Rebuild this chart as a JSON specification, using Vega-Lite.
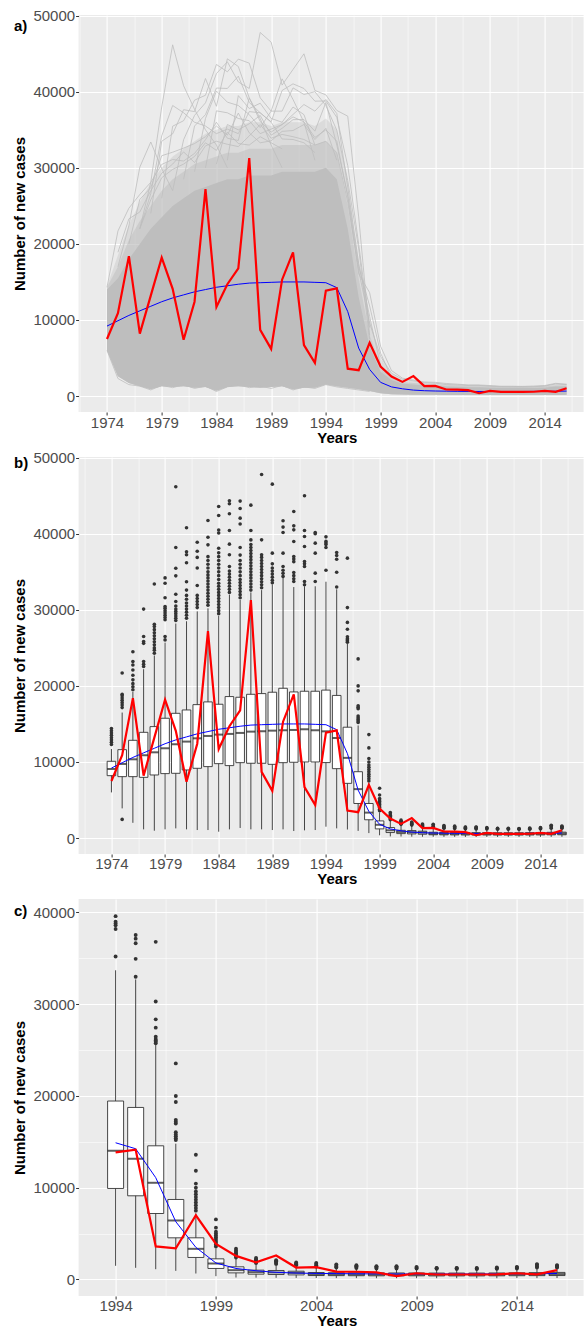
{
  "$schema": "https://vega.github.io/schema/vega-lite/v6.json",
  "background": "white",
  "padding": {"left": 12.6, "top": 8, "right": 0, "bottom": 0},
  "spacing": 45,
  "bounds": "flush",
  "config": {
    "font": "Liberation Sans",
    "view": {"fill": "#ebebeb", "stroke": null},
    "axis": {
      "domain": false,
      "tickColor": "#333333",
      "tickSize": 3,
      "tickWidth": 1,
      "labelColor": "#4d4d4d",
      "labelFont": "Liberation Sans",
      "labelFontSize": 15,
      "labelOverlap": false,
      "labelFlush": false,
      "labelBound": false,
      "titleFont": "Liberation Sans",
      "titleFontSize": 15,
      "titleFontWeight": "bold",
      "titleColor": "#000000",
      "gridColor": "#ffffff"
    },
    "axisX": {"labelPadding": 0, "titlePadding": 0, "titleX": 258.2},
    "axisY": {"labelPadding": 1, "titlePadding": 5},
    "title": {
      "anchor": "start",
      "frame": "group",
      "dx": -64.6,
      "offset": -20,
      "baseline": "alphabetic",
      "font": "Liberation Sans",
      "fontSize": 15,
      "fontWeight": "bold",
      "color": "#000000"
    }
  },
  "datasets": {
    "box": [
      {"year":1974,"lo":6000,"q1":8200,"med":9080,"q3":10090,"hi":11700},
      {"year":1975,"lo":3900,"q1":8070,"med":9740,"q3":11620,"hi":16500},
      {"year":1976,"lo":2000,"q1":8070,"med":10350,"q3":12850,"hi":19200},
      {"year":1977,"lo":1140,"q1":7980,"med":10880,"q3":13900,"hi":22200},
      {"year":1978,"lo":960,"q1":8290,"med":11270,"q3":14650,"hi":24000},
      {"year":1979,"lo":1140,"q1":8470,"med":11800,"q3":15750,"hi":25700},
      {"year":1980,"lo":1270,"q1":8510,"med":12330,"q3":16400,"hi":28200},
      {"year":1981,"lo":1140,"q1":8950,"med":12680,"q3":16840,"hi":28500},
      {"year":1982,"lo":1050,"q1":9170,"med":13110,"q3":17540,"hi":29800},
      {"year":1983,"lo":1050,"q1":9390,"med":13420,"q3":17900,"hi":30200},
      {"year":1984,"lo":830,"q1":9780,"med":13600,"q3":17590,"hi":29200},
      {"year":1985,"lo":1140,"q1":9520,"med":13690,"q3":18600,"hi":32000},
      {"year":1986,"lo":1320,"q1":9910,"med":13820,"q3":18510,"hi":31300},
      {"year":1987,"lo":1140,"q1":9830,"med":13990,"q3":18900,"hi":32300},
      {"year":1988,"lo":1140,"q1":9830,"med":14040,"q3":18990,"hi":32600},
      {"year":1989,"lo":1050,"q1":9690,"med":14120,"q3":19170,"hi":33300},
      {"year":1990,"lo":1140,"q1":9910,"med":14170,"q3":19690,"hi":34200},
      {"year":1991,"lo":920,"q1":9960,"med":14210,"q3":19210,"hi":33000},
      {"year":1992,"lo":1010,"q1":10000,"med":14300,"q3":19300,"hi":33100},
      {"year":1993,"lo":1050,"q1":10000,"med":14170,"q3":19300,"hi":33100},
      {"year":1994,"lo":1490,"q1":9920,"med":14030,"q3":19450,"hi":33700},
      {"year":1995,"lo":1270,"q1":9120,"med":13150,"q3":18750,"hi":32700},
      {"year":1996,"lo":1120,"q1":7190,"med":10540,"q3":14570,"hi":25550},
      {"year":1997,"lo":940,"q1":4540,"med":6430,"q3":8720,"hi":14800},
      {"year":1998,"lo":650,"q1":2400,"med":3340,"q3":4540,"hi":7200},
      {"year":1999,"lo":360,"q1":1200,"med":1740,"q3":2250,"hi":3380},
      {"year":2000,"lo":215,"q1":720,"med":1015,"q3":1380,"hi":2300},
      {"year":2001,"lo":200,"q1":580,"med":800,"q3":1015,"hi":1650},
      {"year":2002,"lo":180,"q1":540,"med":760,"q3":980,"hi":1600},
      {"year":2003,"lo":170,"q1":500,"med":720,"q3":900,"hi":1480},
      {"year":2004,"lo":160,"q1":430,"med":580,"q3":760,"hi":1250},
      {"year":2005,"lo":150,"q1":420,"med":570,"q3":740,"hi":1200},
      {"year":2006,"lo":150,"q1":410,"med":560,"q3":730,"hi":1180},
      {"year":2007,"lo":140,"q1":400,"med":550,"q3":720,"hi":1150},
      {"year":2008,"lo":140,"q1":400,"med":540,"q3":710,"hi":1150},
      {"year":2009,"lo":140,"q1":400,"med":540,"q3":710,"hi":1150},
      {"year":2010,"lo":140,"q1":390,"med":530,"q3":700,"hi":1120},
      {"year":2011,"lo":140,"q1":390,"med":530,"q3":700,"hi":1120},
      {"year":2012,"lo":140,"q1":390,"med":530,"q3":700,"hi":1120},
      {"year":2013,"lo":140,"q1":400,"med":540,"q3":710,"hi":1130},
      {"year":2014,"lo":150,"q1":410,"med":560,"q3":730,"hi":1150},
      {"year":2015,"lo":150,"q1":420,"med":570,"q3":750,"hi":1200},
      {"year":2016,"lo":160,"q1":430,"med":590,"q3":770,"hi":1250}
    ],
    "outl": [
      {"year":1974,"v":12300},{"year":1974,"v":12600},{"year":1974,"v":12900},{"year":1974,"v":13200},{"year":1974,"v":13500},{"year":1974,"v":13800},{"year":1974,"v":14100},{"year":1974,"v":14400},
      {"year":1975,"v":2450},{"year":1975,"v":17150},{"year":1975,"v":17500},{"year":1975,"v":17800},{"year":1975,"v":18100},{"year":1975,"v":18400},{"year":1975,"v":18700},{"year":1975,"v":18900},{"year":1975,"v":21700},
      {"year":1976,"v":19500},{"year":1976,"v":19900},{"year":1976,"v":20300},{"year":1976,"v":20800},{"year":1976,"v":21400},{"year":1976,"v":22100},{"year":1976,"v":22750},{"year":1976,"v":23200},{"year":1976,"v":24500},
      {"year":1977,"v":22550},{"year":1977,"v":22850},{"year":1977,"v":23200},{"year":1977,"v":25600},{"year":1977,"v":25850},{"year":1977,"v":26500},{"year":1977,"v":30100},
      {"year":1978,"v":24300},{"year":1978,"v":24700},{"year":1978,"v":25000},{"year":1978,"v":25400},{"year":1978,"v":25800},{"year":1978,"v":26200},{"year":1978,"v":26600},{"year":1978,"v":27000},{"year":1978,"v":27400},{"year":1978,"v":27800},{"year":1978,"v":28100},{"year":1978,"v":33400},
      {"year":1979,"v":26050},{"year":1979,"v":26500},{"year":1979,"v":28700},{"year":1979,"v":29000},{"year":1979,"v":29300},{"year":1979,"v":29600},{"year":1979,"v":29900},{"year":1979,"v":30200},{"year":1979,"v":30450},{"year":1979,"v":31600},{"year":1979,"v":33500},{"year":1979,"v":34200},
      {"year":1980,"v":28600},{"year":1980,"v":28900},{"year":1980,"v":29200},{"year":1980,"v":29500},{"year":1980,"v":29800},{"year":1980,"v":30100},{"year":1980,"v":30500},{"year":1980,"v":31100},{"year":1980,"v":32060},{"year":1980,"v":34470},{"year":1980,"v":35480},{"year":1980,"v":38200},{"year":1980,"v":46180},
      {"year":1981,"v":28900},{"year":1981,"v":29300},{"year":1981,"v":29700},{"year":1981,"v":30100},{"year":1981,"v":30500},{"year":1981,"v":30900},{"year":1981,"v":31400},{"year":1981,"v":31900},{"year":1981,"v":32600},{"year":1981,"v":33700},{"year":1981,"v":36200},{"year":1981,"v":37250},{"year":1981,"v":37650},{"year":1981,"v":40800},
      {"year":1982,"v":30300},{"year":1982,"v":30700},{"year":1982,"v":31100},{"year":1982,"v":31500},{"year":1982,"v":31900},{"year":1982,"v":33200},{"year":1982,"v":35500},{"year":1982,"v":36900},{"year":1982,"v":37700},{"year":1982,"v":38900},
      {"year":1983,"v":30600},{"year":1983,"v":31000},{"year":1983,"v":31400},{"year":1983,"v":31800},{"year":1983,"v":32200},{"year":1983,"v":32600},{"year":1983,"v":33000},{"year":1983,"v":33400},{"year":1983,"v":33800},{"year":1983,"v":34200},{"year":1983,"v":34600},{"year":1983,"v":35000},{"year":1983,"v":35500},{"year":1983,"v":36000},{"year":1983,"v":36500},{"year":1983,"v":37000},{"year":1983,"v":38550},{"year":1983,"v":39550},{"year":1983,"v":41750},
      {"year":1984,"v":29500},{"year":1984,"v":29900},{"year":1984,"v":30300},{"year":1984,"v":30700},{"year":1984,"v":31100},{"year":1984,"v":31500},{"year":1984,"v":31900},{"year":1984,"v":32300},{"year":1984,"v":32700},{"year":1984,"v":33100},{"year":1984,"v":33500},{"year":1984,"v":34000},{"year":1984,"v":34500},{"year":1984,"v":35000},{"year":1984,"v":35500},{"year":1984,"v":36000},{"year":1984,"v":36500},{"year":1984,"v":37000},{"year":1984,"v":37500},{"year":1984,"v":38100},{"year":1984,"v":40100},{"year":1984,"v":40500},{"year":1984,"v":42400},{"year":1984,"v":43600},
      {"year":1985,"v":32300},{"year":1985,"v":32700},{"year":1985,"v":33100},{"year":1985,"v":33500},{"year":1985,"v":33900},{"year":1985,"v":34300},{"year":1985,"v":34700},{"year":1985,"v":35100},{"year":1985,"v":35700},{"year":1985,"v":37240},{"year":1985,"v":38640},{"year":1985,"v":40440},{"year":1985,"v":42630},{"year":1985,"v":43950},{"year":1985,"v":44340},
      {"year":1986,"v":31600},{"year":1986,"v":32000},{"year":1986,"v":32400},{"year":1986,"v":32800},{"year":1986,"v":33200},{"year":1986,"v":33600},{"year":1986,"v":34000},{"year":1986,"v":34500},{"year":1986,"v":35000},{"year":1986,"v":35500},{"year":1986,"v":36000},{"year":1986,"v":36500},{"year":1986,"v":37200},{"year":1986,"v":38200},{"year":1986,"v":41300},{"year":1986,"v":42060},{"year":1986,"v":43330},{"year":1986,"v":44300},
      {"year":1987,"v":32600},{"year":1987,"v":33000},{"year":1987,"v":33400},{"year":1987,"v":33800},{"year":1987,"v":34200},{"year":1987,"v":34600},{"year":1987,"v":35000},{"year":1987,"v":35400},{"year":1987,"v":35800},{"year":1987,"v":36200},{"year":1987,"v":36600},{"year":1987,"v":37000},{"year":1987,"v":37400},{"year":1987,"v":37800},{"year":1987,"v":38200},{"year":1987,"v":38600},{"year":1987,"v":39200},{"year":1987,"v":40440},{"year":1987,"v":43770},
      {"year":1988,"v":32900},{"year":1988,"v":33300},{"year":1988,"v":33700},{"year":1988,"v":34100},{"year":1988,"v":34500},{"year":1988,"v":34900},{"year":1988,"v":35300},{"year":1988,"v":35700},{"year":1988,"v":36100},{"year":1988,"v":36500},{"year":1988,"v":36900},{"year":1988,"v":37240},{"year":1988,"v":39210},{"year":1988,"v":47800},
      {"year":1989,"v":33550},{"year":1989,"v":33900},{"year":1989,"v":34300},{"year":1989,"v":34700},{"year":1989,"v":35100},{"year":1989,"v":35500},{"year":1989,"v":36050},{"year":1989,"v":37460},{"year":1989,"v":46530},
      {"year":1990,"v":34400},{"year":1990,"v":34800},{"year":1990,"v":35200},{"year":1990,"v":35700},{"year":1990,"v":37460},{"year":1990,"v":40180},{"year":1990,"v":40880},{"year":1990,"v":41710},
      {"year":1991,"v":33730},{"year":1991,"v":34100},{"year":1991,"v":34500},{"year":1991,"v":34910},{"year":1991,"v":36340},{"year":1991,"v":36700},{"year":1991,"v":37020},{"year":1991,"v":38990},{"year":1991,"v":40520},{"year":1991,"v":41050},{"year":1991,"v":42940},
      {"year":1992,"v":33300},{"year":1992,"v":33730},{"year":1992,"v":35700},{"year":1992,"v":36050},{"year":1992,"v":36360},{"year":1992,"v":38330},{"year":1992,"v":39650},{"year":1992,"v":40440},{"year":1992,"v":45000},
      {"year":1993,"v":33730},{"year":1993,"v":34830},{"year":1993,"v":37460},{"year":1993,"v":38770},{"year":1993,"v":40010},{"year":1993,"v":40180},
      {"year":1994,"v":35200},{"year":1994,"v":38200},{"year":1994,"v":38600},{"year":1994,"v":38800},{"year":1994,"v":39000},{"year":1994,"v":39600},
      {"year":1995,"v":33000},{"year":1995,"v":34950},{"year":1995,"v":36650},{"year":1995,"v":37150},{"year":1995,"v":37550},
      {"year":1996,"v":25750},{"year":1996,"v":25900},{"year":1996,"v":26050},{"year":1996,"v":26200},{"year":1996,"v":26450},{"year":1996,"v":27450},{"year":1996,"v":28350},{"year":1996,"v":30300},{"year":1996,"v":36800},
      {"year":1997,"v":15200},{"year":1997,"v":15400},{"year":1997,"v":15600},{"year":1997,"v":15800},{"year":1997,"v":16050},{"year":1997,"v":17000},{"year":1997,"v":17200},{"year":1997,"v":17400},{"year":1997,"v":19350},{"year":1997,"v":20000},{"year":1997,"v":23550},
      {"year":1998,"v":7500},{"year":1998,"v":7800},{"year":1998,"v":8100},{"year":1998,"v":8400},{"year":1998,"v":8700},{"year":1998,"v":9000},{"year":1998,"v":9300},{"year":1998,"v":9600},{"year":1998,"v":10000},{"year":1998,"v":10450},{"year":1998,"v":11850},{"year":1998,"v":13600},
      {"year":1999,"v":3600},{"year":1999,"v":3800},{"year":1999,"v":4000},{"year":1999,"v":4200},{"year":1999,"v":4400},{"year":1999,"v":4600},{"year":1999,"v":4800},{"year":1999,"v":5000},{"year":1999,"v":5200},{"year":1999,"v":5650},{"year":1999,"v":6550},
      {"year":2000,"v":2400},{"year":2000,"v":2550},{"year":2000,"v":2700},{"year":2000,"v":2850},{"year":2000,"v":3000},{"year":2000,"v":3150},{"year":2000,"v":3350},
      {"year":2001,"v":1800},{"year":2001,"v":1900},{"year":2001,"v":2000},{"year":2001,"v":2100},{"year":2001,"v":2200},{"year":2001,"v":2350},
      {"year":2002,"v":1700},{"year":2002,"v":1800},{"year":2002,"v":1900},{"year":2002,"v":2000},{"year":2002,"v":2100},
      {"year":2003,"v":1550},{"year":2003,"v":1650},{"year":2003,"v":1750},{"year":2003,"v":1850},
      {"year":2004,"v":1400},{"year":2004,"v":1550},{"year":2004,"v":1700},{"year":2004,"v":1800},
      {"year":2005,"v":1300},{"year":2005,"v":1400},{"year":2005,"v":1500},{"year":2005,"v":1650},
      {"year":2006,"v":1250},{"year":2006,"v":1350},{"year":2006,"v":1450},{"year":2006,"v":1560},
      {"year":2007,"v":1200},{"year":2007,"v":1300},{"year":2007,"v":1400},{"year":2007,"v":1450},
      {"year":2008,"v":1200},{"year":2008,"v":1300},{"year":2008,"v":1400},{"year":2008,"v":1450},
      {"year":2009,"v":1200},{"year":2009,"v":1280},{"year":2009,"v":1380},
      {"year":2010,"v":1170},{"year":2010,"v":1230},{"year":2010,"v":1270},
      {"year":2011,"v":1150},{"year":2011,"v":1220},{"year":2011,"v":1270},
      {"year":2012,"v":1150},{"year":2012,"v":1200},{"year":2012,"v":1250},
      {"year":2013,"v":1170},{"year":2013,"v":1230},{"year":2013,"v":1300},
      {"year":2014,"v":1200},{"year":2014,"v":1300},{"year":2014,"v":1380},
      {"year":2015,"v":1300},{"year":2015,"v":1450},{"year":2015,"v":1600},{"year":2015,"v":1670},
      {"year":2016,"v":1300},{"year":2016,"v":1400},{"year":2016,"v":1500},{"year":2016,"v":1560}
    ],
    "obs": [
      {"year":1974,"obs":7500,"fit":9200},{"year":1975,"obs":10900,"fit":9900},{"year":1976,"obs":18400,"fit":10600},
      {"year":1977,"obs":8200,"fit":11200},{"year":1978,"obs":13200,"fit":11800},{"year":1979,"obs":18200,"fit":12400},
      {"year":1980,"obs":14100,"fit":12900},{"year":1981,"obs":7400,"fit":13300},{"year":1982,"obs":12400,"fit":13700},
      {"year":1983,"obs":27200,"fit":14000},{"year":1984,"obs":11700,"fit":14300},{"year":1985,"obs":14700,"fit":14500},
      {"year":1986,"obs":16800,"fit":14700},{"year":1987,"obs":31300,"fit":14850},{"year":1988,"obs":8700,"fit":14900},
      {"year":1989,"obs":6200,"fit":14950},{"year":1990,"obs":15300,"fit":15000},{"year":1991,"obs":18900,"fit":15000},
      {"year":1992,"obs":6700,"fit":15000},{"year":1993,"obs":4350,"fit":14950},{"year":1994,"obs":13850,"fit":14900},
      {"year":1995,"obs":14150,"fit":14250},{"year":1996,"obs":3600,"fit":11100},{"year":1997,"obs":3400,"fit":6300},
      {"year":1998,"obs":7000,"fit":3500},{"year":1999,"obs":3880,"fit":1800},{"year":2000,"obs":2570,"fit":1200},
      {"year":2001,"obs":1860,"fit":950},{"year":2002,"obs":2620,"fit":780},{"year":2003,"obs":1300,"fit":700},
      {"year":2004,"obs":1340,"fit":660},{"year":2005,"obs":860,"fit":640},{"year":2006,"obs":840,"fit":620},
      {"year":2007,"obs":780,"fit":610},{"year":2008,"obs":370,"fit":600},{"year":2009,"obs":680,"fit":600},
      {"year":2010,"obs":540,"fit":600},{"year":2011,"obs":540,"fit":600},{"year":2012,"obs":540,"fit":600},
      {"year":2013,"obs":560,"fit":610},{"year":2014,"obs":680,"fit":620},{"year":2015,"obs":560,"fit":630},
      {"year":2016,"obs":1020,"fit":650}
    ],
    "core": [
      {"year":1974,"lo":6000,"hi":14000,"hi2":14300,"hi3":14400},
      {"year":1975,"lo":2600,"hi":15500,"hi2":17000,"hi3":18500},
      {"year":1976,"lo":1700,"hi":18000,"hi2":20500,"hi3":22500},
      {"year":1977,"lo":1300,"hi":20000,"hi2":23000,"hi3":25500},
      {"year":1978,"lo":900,"hi":22000,"hi2":25000,"hi3":28000},
      {"year":1979,"lo":1300,"hi":23500,"hi2":27000,"hi3":30000},
      {"year":1980,"lo":1200,"hi":25000,"hi2":28500,"hi3":31500},
      {"year":1981,"lo":1300,"hi":26000,"hi2":29500,"hi3":32500},
      {"year":1982,"lo":1100,"hi":27000,"hi2":30500,"hi3":33500},
      {"year":1983,"lo":1200,"hi":27500,"hi2":31000,"hi3":34500},
      {"year":1984,"lo":700,"hi":28000,"hi2":31500,"hi3":35000},
      {"year":1985,"lo":1200,"hi":28500,"hi2":32000,"hi3":35500},
      {"year":1986,"lo":1300,"hi":28500,"hi2":32000,"hi3":35500},
      {"year":1987,"lo":1200,"hi":29000,"hi2":32500,"hi3":36000},
      {"year":1988,"lo":1100,"hi":29000,"hi2":32500,"hi3":36000},
      {"year":1989,"lo":1200,"hi":29000,"hi2":32500,"hi3":35500},
      {"year":1990,"lo":1300,"hi":29500,"hi2":33000,"hi3":36000},
      {"year":1991,"lo":900,"hi":29500,"hi2":33000,"hi3":36000},
      {"year":1992,"lo":1100,"hi":29500,"hi2":33000,"hi3":36000},
      {"year":1993,"lo":1100,"hi":29500,"hi2":33000,"hi3":35500},
      {"year":1994,"lo":1500,"hi":30000,"hi2":33500,"hi3":36500},
      {"year":1995,"lo":1300,"hi":28500,"hi2":32000,"hi3":35000},
      {"year":1996,"lo":1100,"hi":22000,"hi2":25000,"hi3":28000},
      {"year":1997,"lo":900,"hi":13000,"hi2":15500,"hi3":18000},
      {"year":1998,"lo":650,"hi":6500,"hi2":8000,"hi3":10000},
      {"year":1999,"lo":350,"hi":3200,"hi2":4000,"hi3":5000},
      {"year":2000,"lo":220,"hi":2100,"hi2":2500,"hi3":2900},
      {"year":2001,"lo":200,"hi":1600,"hi2":1800,"hi3":2100},
      {"year":2002,"lo":180,"hi":1500,"hi2":1700,"hi3":1950},
      {"year":2003,"lo":170,"hi":1400,"hi2":1600,"hi3":1800},
      {"year":2004,"lo":160,"hi":1350,"hi2":1500,"hi3":1700},
      {"year":2005,"lo":150,"hi":1250,"hi2":1400,"hi3":1600},
      {"year":2006,"lo":150,"hi":1200,"hi2":1350,"hi3":1500},
      {"year":2007,"lo":140,"hi":1150,"hi2":1300,"hi3":1450},
      {"year":2008,"lo":140,"hi":1150,"hi2":1300,"hi3":1450},
      {"year":2009,"lo":140,"hi":1100,"hi2":1250,"hi3":1400},
      {"year":2010,"lo":140,"hi":1050,"hi2":1200,"hi3":1350},
      {"year":2011,"lo":140,"hi":1050,"hi2":1200,"hi3":1350},
      {"year":2012,"lo":140,"hi":1050,"hi2":1200,"hi3":1350},
      {"year":2013,"lo":140,"hi":1050,"hi2":1200,"hi3":1350},
      {"year":2014,"lo":150,"hi":1100,"hi2":1250,"hi3":1400},
      {"year":2015,"lo":150,"hi":1250,"hi2":1400,"hi3":1600},
      {"year":2016,"lo":160,"hi":1250,"hi2":1400,"hi3":1550}
    ],
    "sims": [
      {"s":1,"year":1975,"v":17000},{"s":1,"year":1976,"v":22400},{"s":1,"year":1977,"v":30100},{"s":1,"year":1978,"v":33400},{"s":1,"year":1979,"v":29900},{"s":1,"year":1980,"v":27000},
      {"s":2,"year":1977,"v":22000},{"s":2,"year":1978,"v":28100},{"s":2,"year":1979,"v":38000},{"s":2,"year":1980,"v":46180},{"s":2,"year":1981,"v":40800},{"s":2,"year":1982,"v":37700},{"s":2,"year":1983,"v":35000},{"s":2,"year":1984,"v":33000},{"s":2,"year":1985,"v":30000},
      {"s":3,"year":1978,"v":24000},{"s":3,"year":1979,"v":33500},{"s":3,"year":1980,"v":34470},{"s":3,"year":1981,"v":37650},{"s":3,"year":1982,"v":37400},{"s":3,"year":1983,"v":41750},{"s":3,"year":1984,"v":38100},{"s":3,"year":1985,"v":44340},{"s":3,"year":1986,"v":43330},{"s":3,"year":1987,"v":39200},{"s":3,"year":1988,"v":36500},{"s":3,"year":1989,"v":33000},{"s":3,"year":1990,"v":30000},
      {"s":4,"year":1979,"v":26000},{"s":4,"year":1980,"v":35480},{"s":4,"year":1981,"v":36200},{"s":4,"year":1982,"v":38900},{"s":4,"year":1983,"v":39550},{"s":4,"year":1984,"v":43600},{"s":4,"year":1985,"v":42630},{"s":4,"year":1986,"v":44300},{"s":4,"year":1987,"v":43770},{"s":4,"year":1988,"v":39210},{"s":4,"year":1989,"v":37460},{"s":4,"year":1990,"v":41710},{"s":4,"year":1991,"v":38990},{"s":4,"year":1992,"v":36000},{"s":4,"year":1993,"v":31000},
      {"s":5,"year":1980,"v":27000},{"s":5,"year":1981,"v":33700},{"s":5,"year":1982,"v":36900},{"s":5,"year":1983,"v":38550},{"s":5,"year":1984,"v":42400},{"s":5,"year":1985,"v":43950},{"s":5,"year":1986,"v":41300},{"s":5,"year":1987,"v":40440},{"s":5,"year":1988,"v":47800},{"s":5,"year":1989,"v":46530},{"s":5,"year":1990,"v":40880},{"s":5,"year":1991,"v":42940},{"s":5,"year":1992,"v":45000},{"s":5,"year":1993,"v":40180},{"s":5,"year":1994,"v":39600},{"s":5,"year":1995,"v":37550},{"s":5,"year":1996,"v":36800},{"s":5,"year":1997,"v":23550},{"s":5,"year":1998,"v":8000},
      {"s":6,"year":1981,"v":28500},{"s":6,"year":1982,"v":35500},{"s":6,"year":1983,"v":37000},{"s":6,"year":1984,"v":40500},{"s":6,"year":1985,"v":40440},{"s":6,"year":1986,"v":42060},{"s":6,"year":1987,"v":38600},{"s":6,"year":1988,"v":37240},{"s":6,"year":1989,"v":36050},{"s":6,"year":1990,"v":40180},{"s":6,"year":1991,"v":41050},{"s":6,"year":1992,"v":40440},{"s":6,"year":1993,"v":38770},{"s":6,"year":1994,"v":38800},{"s":6,"year":1995,"v":36650},{"s":6,"year":1996,"v":30300},{"s":6,"year":1997,"v":20000},{"s":6,"year":1998,"v":9000},
      {"s":7,"year":1982,"v":29500},{"s":7,"year":1983,"v":36500},{"s":7,"year":1984,"v":40100},{"s":7,"year":1985,"v":38640},{"s":7,"year":1986,"v":38200},{"s":7,"year":1987,"v":37000},{"s":7,"year":1988,"v":35300},{"s":7,"year":1989,"v":37460},{"s":7,"year":1990,"v":37460},{"s":7,"year":1991,"v":40520},{"s":7,"year":1992,"v":39650},{"s":7,"year":1993,"v":40010},{"s":7,"year":1994,"v":38200},{"s":7,"year":1995,"v":34950},{"s":7,"year":1996,"v":28350},{"s":7,"year":1997,"v":19350},{"s":7,"year":1998,"v":7500},
      {"s":8,"year":1983,"v":30000},{"s":8,"year":1984,"v":37500},{"s":8,"year":1985,"v":37240},{"s":8,"year":1986,"v":36500},{"s":8,"year":1987,"v":36200},{"s":8,"year":1988,"v":34500},{"s":8,"year":1989,"v":35100},{"s":8,"year":1990,"v":35700},{"s":8,"year":1991,"v":37020},{"s":8,"year":1992,"v":38330},{"s":8,"year":1993,"v":37460},{"s":8,"year":1994,"v":39000},{"s":8,"year":1995,"v":37150},{"s":8,"year":1996,"v":27450},{"s":8,"year":1997,"v":17400},{"s":8,"year":1998,"v":10450},{"s":8,"year":1999,"v":4000},
      {"s":9,"year":1984,"v":30500},{"s":9,"year":1985,"v":35700},{"s":9,"year":1986,"v":35000},{"s":9,"year":1987,"v":35800},{"s":9,"year":1988,"v":36900},{"s":9,"year":1989,"v":34300},{"s":9,"year":1990,"v":35200},{"s":9,"year":1991,"v":36340},{"s":9,"year":1992,"v":36360},{"s":9,"year":1993,"v":34830},{"s":9,"year":1994,"v":38600},{"s":9,"year":1995,"v":33000},{"s":9,"year":1996,"v":26450},{"s":9,"year":1997,"v":17000},{"s":9,"year":1998,"v":11850},{"s":9,"year":1999,"v":5650},{"s":9,"year":2000,"v":2400},
      {"s":10,"year":1976,"v":20000},{"s":10,"year":1977,"v":25850},{"s":10,"year":1978,"v":27400},{"s":10,"year":1979,"v":31600},{"s":10,"year":1980,"v":32060},{"s":10,"year":1981,"v":32600},{"s":10,"year":1982,"v":33200},{"s":10,"year":1983,"v":34100},{"s":10,"year":1984,"v":35500},{"s":10,"year":1985,"v":34300},{"s":10,"year":1986,"v":37200},{"s":10,"year":1987,"v":34600},{"s":10,"year":1988,"v":33300},{"s":10,"year":1989,"v":33550},{"s":10,"year":1990,"v":34800},{"s":10,"year":1991,"v":34910},{"s":10,"year":1992,"v":35700},{"s":10,"year":1993,"v":33730},{"s":10,"year":1994,"v":35200},{"s":10,"year":1995,"v":31000},
      {"s":11,"year":1977,"v":22000},{"s":11,"year":1978,"v":26600},{"s":11,"year":1979,"v":34200},{"s":11,"year":1980,"v":38200},{"s":11,"year":1981,"v":37250},{"s":11,"year":1982,"v":36000},{"s":11,"year":1983,"v":35500},{"s":11,"year":1984,"v":34500},{"s":11,"year":1985,"v":35100},{"s":11,"year":1986,"v":34500},{"s":11,"year":1987,"v":37400},{"s":11,"year":1988,"v":37240},{"s":11,"year":1989,"v":36000},{"s":11,"year":1990,"v":33800},{"s":11,"year":1991,"v":33730},{"s":11,"year":1992,"v":33300},{"s":11,"year":1993,"v":32000},
      {"s":12,"year":1974,"v":14300},{"s":12,"year":1975,"v":21700},{"s":12,"year":1976,"v":24700},{"s":12,"year":1977,"v":26500},{"s":12,"year":1978,"v":28100},{"s":12,"year":1979,"v":30450},{"s":12,"year":1980,"v":31100},{"s":12,"year":1981,"v":30900},{"s":12,"year":1982,"v":31900},{"s":12,"year":1983,"v":33700},{"s":12,"year":1984,"v":36000},{"s":12,"year":1985,"v":33900},{"s":12,"year":1986,"v":33600},{"s":12,"year":1987,"v":39200},{"s":12,"year":1988,"v":36100},{"s":12,"year":1989,"v":34700},{"s":12,"year":1990,"v":35700},{"s":12,"year":1991,"v":36700},{"s":12,"year":1992,"v":36050},{"s":12,"year":1993,"v":34000},{"s":12,"year":1994,"v":35000},{"s":12,"year":1995,"v":33500},{"s":12,"year":1996,"v":26200},{"s":12,"year":1997,"v":16050},{"s":12,"year":1998,"v":13600},{"s":12,"year":1999,"v":6550},{"s":12,"year":2000,"v":3350},{"s":12,"year":2001,"v":2350},{"s":12,"year":2002,"v":2100},{"s":12,"year":2003,"v":1850},{"s":12,"year":2004,"v":1800},{"s":12,"year":2005,"v":1650},{"s":12,"year":2006,"v":1560},{"s":12,"year":2007,"v":1450},{"s":12,"year":2008,"v":1450},{"s":12,"year":2009,"v":1380},{"s":12,"year":2010,"v":1270},{"s":12,"year":2011,"v":1270},{"s":12,"year":2012,"v":1250},{"s":12,"year":2013,"v":1300},{"s":12,"year":2014,"v":1380},{"s":12,"year":2015,"v":1670},{"s":12,"year":2016,"v":1560},
      {"s":13,"year":1975,"v":18900},{"s":13,"year":1976,"v":23300},{"s":13,"year":1977,"v":24200},{"s":13,"year":1978,"v":27000},{"s":13,"year":1979,"v":29300},{"s":13,"year":1980,"v":30500},{"s":13,"year":1981,"v":32100},{"s":13,"year":1982,"v":30700},{"s":13,"year":1983,"v":32900},{"s":13,"year":1984,"v":33500},{"s":13,"year":1985,"v":33100},{"s":13,"year":1986,"v":32800},{"s":13,"year":1987,"v":34200},{"s":13,"year":1988,"v":35700},{"s":13,"year":1989,"v":33900},{"s":13,"year":1990,"v":34400},{"s":13,"year":1991,"v":34100},{"s":13,"year":1992,"v":33730},{"s":13,"year":1993,"v":33000},{"s":13,"year":1994,"v":33500},{"s":13,"year":1995,"v":32000},{"s":13,"year":1996,"v":25500},{"s":13,"year":1997,"v":16500},{"s":13,"year":1998,"v":9600},{"s":13,"year":1999,"v":5200},{"s":13,"year":2000,"v":3000},{"s":13,"year":2001,"v":2200},{"s":13,"year":2002,"v":2000},{"s":13,"year":2003,"v":1750},{"s":13,"year":2004,"v":1700},{"s":13,"year":2005,"v":1500},{"s":13,"year":2006,"v":1450},{"s":13,"year":2007,"v":1400},{"s":13,"year":2008,"v":1400},{"s":13,"year":2009,"v":1280},{"s":13,"year":2010,"v":1230},{"s":13,"year":2011,"v":1220},{"s":13,"year":2012,"v":1200},{"s":13,"year":2013,"v":1230},{"s":13,"year":2014,"v":1300},{"s":13,"year":2015,"v":1600},{"s":13,"year":2016,"v":1500},
      {"s":14,"year":1985,"v":31000},{"s":14,"year":1986,"v":39500},{"s":14,"year":1987,"v":37800},{"s":14,"year":1988,"v":38500},{"s":14,"year":1989,"v":36500},{"s":14,"year":1990,"v":36000},{"s":14,"year":1991,"v":38000},{"s":14,"year":1992,"v":37000},{"s":14,"year":1993,"v":33000},
      {"s":15,"year":1977,"v":22000},{"s":15,"year":1978,"v":25800},{"s":15,"year":1979,"v":28700},{"s":15,"year":1980,"v":29800},{"s":15,"year":1981,"v":30500},{"s":15,"year":1982,"v":31500},{"s":15,"year":1983,"v":33300},{"s":15,"year":1984,"v":32300},{"s":15,"year":1985,"v":34700},{"s":15,"year":1986,"v":33200},{"s":15,"year":1987,"v":33000},{"s":15,"year":1988,"v":34100},{"s":15,"year":1989,"v":33300},{"s":15,"year":1990,"v":32500},
      {"s":16,"year":1974,"v":6000},{"s":16,"year":1975,"v":2300},{"s":16,"year":1976,"v":1500},{"s":16,"year":1977,"v":1300},{"s":16,"year":1978,"v":800},{"s":16,"year":1979,"v":1400},{"s":16,"year":1980,"v":1100},{"s":16,"year":1981,"v":1500},{"s":16,"year":1982,"v":1000},{"s":16,"year":1983,"v":1300},{"s":16,"year":1984,"v":600},{"s":16,"year":1985,"v":1200},{"s":16,"year":1986,"v":1500},{"s":16,"year":1987,"v":1100},{"s":16,"year":1988,"v":1300},{"s":16,"year":1989,"v":1000},{"s":16,"year":1990,"v":1400},{"s":16,"year":1991,"v":800},{"s":16,"year":1992,"v":1200},{"s":16,"year":1993,"v":1000},{"s":16,"year":1994,"v":1500},{"s":16,"year":1995,"v":1200},{"s":16,"year":1996,"v":1000},{"s":16,"year":1997,"v":800},{"s":16,"year":1998,"v":600}
    ]
  },
  "vconcat": [
    {
      "width": 505,
      "height": 397,
      "title": {"text": "a)", "dy": 5},
      "encoding": {
        "x": {
          "field": "year", "type": "quantitative", "title": "Years",
          "scale": {"domain": [1971.405, 2017.553], "nice": false, "zero": false},
          "axis": {
            "values": [1971.5,1974,1976.5,1979,1981.5,1984,1986.5,1989,1991.5,1994,1996.5,1999,2001.5,2004,2006.5,2009,2011.5,2014,2016.5],
            "format": "d",
            "labelExpr": "datum.value % 5 === 4 ? datum.label : ''",
            "tickOpacity": {"condition": {"test": "datum.value % 5 === 4", "value": 1}, "value": 0},
            "gridWidth": {"condition": {"test": "datum.value % 5 === 4", "value": 1.1}, "value": 0.55}
          }
        }
      },
      "layer": [
        {
          "data": {"name": "core"},
          "mark": {"type": "area", "color": "#bebebe", "opacity": 0.35},
          "encoding": {
            "y": {
              "field": "lo", "type": "quantitative", "title": "Number of new cases",
              "scale": {"domain": [-2100, 50100], "nice": false, "zero": false},
              "axis": {
                "values": [0,5000,10000,15000,20000,25000,30000,35000,40000,45000,50000],
                "format": "d",
                "labelExpr": "datum.value % 10000 === 0 ? datum.label : ''",
                "tickOpacity": {"condition": {"test": "datum.value % 10000 === 0", "value": 1}, "value": 0},
                "gridWidth": {"condition": {"test": "datum.value % 10000 === 0", "value": 1.1}, "value": 0.55}
              }
            },
            "y2": {"field": "hi3"}
          }
        },
        {
          "data": {"name": "core"},
          "mark": {"type": "area", "color": "#bebebe", "opacity": 0.5},
          "encoding": {
            "y": {"field": "lo", "type": "quantitative", "title": "Number of new cases"},
            "y2": {"field": "hi2"}
          }
        },
        {
          "data": {"name": "core"},
          "mark": {"type": "area", "color": "#bebebe"},
          "encoding": {
            "y": {"field": "lo", "type": "quantitative", "title": "Number of new cases"},
            "y2": {"field": "hi"}
          }
        },
        {
          "data": {"name": "sims"},
          "mark": {"type": "line", "color": "#bebebe", "strokeWidth": 0.8},
          "encoding": {
            "y": {"field": "v", "type": "quantitative", "title": "Number of new cases"},
            "detail": {"field": "s", "type": "nominal"}
          }
        },
        {
          "data": {"name": "obs"},
          "mark": {"type": "line", "color": "#0000ff", "strokeWidth": 1},
          "encoding": {"y": {"field": "fit", "type": "quantitative", "title": "Number of new cases"}}
        },
        {
          "data": {"name": "obs"},
          "mark": {"type": "line", "color": "#ff0000", "strokeWidth": 2.2},
          "encoding": {"y": {"field": "obs", "type": "quantitative", "title": "Number of new cases"}}
        }
      ]
    },
    {
      "width": 505,
      "height": 397,
      "title": {"text": "b)"},
      "encoding": {
        "x": {
          "field": "year", "type": "quantitative", "title": "Years",
          "scale": {"domain": [1971.405, 2017.553], "nice": false, "zero": false},
          "axis": {
            "values": [1971.5,1974,1976.5,1979,1981.5,1984,1986.5,1989,1991.5,1994,1996.5,1999,2001.5,2004,2006.5,2009,2011.5,2014,2016.5],
            "format": "d",
            "labelExpr": "datum.value % 5 === 4 ? datum.label : ''",
            "tickOpacity": {"condition": {"test": "datum.value % 5 === 4", "value": 1}, "value": 0},
            "gridWidth": {"condition": {"test": "datum.value % 5 === 4", "value": 1.1}, "value": 0.55}
          }
        }
      },
      "layer": [
        {
          "data": {"name": "box"},
          "mark": {"type": "rule", "color": "#333333", "strokeWidth": 0.9},
          "encoding": {
            "y": {
              "field": "lo", "type": "quantitative", "title": "Number of new cases",
              "scale": {"domain": [-2100, 50100], "nice": false, "zero": false},
              "axis": {
                "values": [0,5000,10000,15000,20000,25000,30000,35000,40000,45000,50000],
                "format": "d",
                "labelExpr": "datum.value % 10000 === 0 ? datum.label : ''",
                "tickOpacity": {"condition": {"test": "datum.value % 10000 === 0", "value": 1}, "value": 0},
                "gridWidth": {"condition": {"test": "datum.value % 10000 === 0", "value": 1.1}, "value": 0.55}
              }
            },
            "y2": {"field": "hi"}
          }
        },
        {
          "data": {"name": "box"},
          "mark": {"type": "bar", "fill": "#ffffff", "stroke": "#333333", "strokeWidth": 0.9, "size": 8.6},
          "encoding": {
            "y": {"field": "q1", "type": "quantitative", "title": "Number of new cases"},
            "y2": {"field": "q3"}
          }
        },
        {
          "data": {"name": "box"},
          "mark": {"type": "tick", "orient": "horizontal", "color": "#1a1a1a", "thickness": 2, "size": 8.6},
          "encoding": {"y": {"field": "med", "type": "quantitative", "title": "Number of new cases"}}
        },
        {
          "data": {"name": "outl"},
          "mark": {"type": "point", "filled": true, "color": "#333333", "opacity": 1, "size": 13},
          "encoding": {"y": {"field": "v", "type": "quantitative", "title": "Number of new cases"}}
        },
        {
          "data": {"name": "obs"},
          "mark": {"type": "line", "color": "#0000ff", "strokeWidth": 1},
          "encoding": {"y": {"field": "fit", "type": "quantitative", "title": "Number of new cases"}}
        },
        {
          "data": {"name": "obs"},
          "mark": {"type": "line", "color": "#ff0000", "strokeWidth": 2.2},
          "encoding": {"y": {"field": "obs", "type": "quantitative", "title": "Number of new cases"}}
        }
      ]
    },
    {
      "width": 505,
      "height": 397,
      "title": {"text": "c)"},
      "encoding": {
        "x": {
          "field": "year", "type": "quantitative", "title": "Years",
          "scale": {"domain": [1992.405, 2017.075], "nice": false, "zero": false},
          "axis": {
            "values": [1994,1996.5,1999,2001.5,2004,2006.5,2009,2011.5,2014,2016.5],
            "format": "d",
            "labelExpr": "datum.value % 5 === 4 ? datum.label : ''",
            "tickOpacity": {"condition": {"test": "datum.value % 5 === 4", "value": 1}, "value": 0},
            "gridWidth": {"condition": {"test": "datum.value % 5 === 4", "value": 1.1}, "value": 0.55}
          }
        }
      },
      "layer": [
        {
          "data": {"name": "box"},
          "transform": [{"filter": "datum.year >= 1994"}],
          "mark": {"type": "rule", "color": "#333333", "strokeWidth": 0.9},
          "encoding": {
            "y": {
              "field": "lo", "type": "quantitative", "title": "Number of new cases",
              "scale": {"domain": [-1800, 41470], "nice": false, "zero": false},
              "axis": {
                "values": [0,5000,10000,15000,20000,25000,30000,35000,40000],
                "format": "d",
                "labelExpr": "datum.value % 10000 === 0 ? datum.label : ''",
                "tickOpacity": {"condition": {"test": "datum.value % 10000 === 0", "value": 1}, "value": 0},
                "gridWidth": {"condition": {"test": "datum.value % 10000 === 0", "value": 1.1}, "value": 0.55}
              }
            },
            "y2": {"field": "hi"}
          }
        },
        {
          "data": {"name": "box"},
          "transform": [{"filter": "datum.year >= 1994"}],
          "mark": {"type": "bar", "fill": "#ffffff", "stroke": "#333333", "strokeWidth": 0.9, "size": 16},
          "encoding": {
            "y": {"field": "q1", "type": "quantitative", "title": "Number of new cases"},
            "y2": {"field": "q3"}
          }
        },
        {
          "data": {"name": "box"},
          "transform": [{"filter": "datum.year >= 1994"}],
          "mark": {"type": "tick", "orient": "horizontal", "color": "#1a1a1a", "thickness": 2, "size": 16},
          "encoding": {"y": {"field": "med", "type": "quantitative", "title": "Number of new cases"}}
        },
        {
          "data": {"name": "outl"},
          "transform": [{"filter": "datum.year >= 1994"}],
          "mark": {"type": "point", "filled": true, "color": "#333333", "opacity": 1, "size": 15},
          "encoding": {"y": {"field": "v", "type": "quantitative", "title": "Number of new cases"}}
        },
        {
          "data": {"name": "obs"},
          "transform": [{"filter": "datum.year >= 1994"}],
          "mark": {"type": "line", "color": "#0000ff", "strokeWidth": 1},
          "encoding": {"y": {"field": "fit", "type": "quantitative", "title": "Number of new cases"}}
        },
        {
          "data": {"name": "obs"},
          "transform": [{"filter": "datum.year >= 1994"}],
          "mark": {"type": "line", "color": "#ff0000", "strokeWidth": 2.2},
          "encoding": {"y": {"field": "obs", "type": "quantitative", "title": "Number of new cases"}}
        }
      ]
    }
  ]
}
